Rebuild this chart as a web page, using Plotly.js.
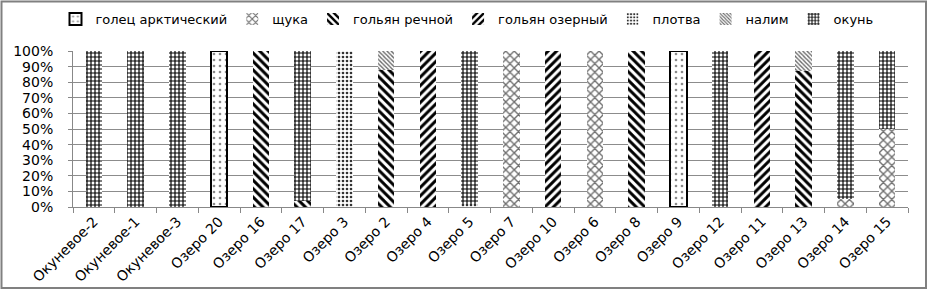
<!DOCTYPE html>
<html>
<head>
<meta charset="utf-8">
<script src="https://cdn.plot.ly/plotly-3.0.1.min.js"></script>
<style>
html,body{margin:0;padding:0;background:#fff;}
#chart{width:929px;height:291px;}
</style>
</head>
<body>
<div id="chart"></div>
<script>
const categories = ["Окуневое-2","Окуневое-1","Окуневое-3","Озеро 20","Озеро 16","Озеро 17","Озеро 3","Озеро 2","Озеро 4","Озеро 5","Озеро 7","Озеро 10","Озеро 6","Озеро 8","Озеро 9","Озеро 12","Озеро 11","Озеро 13","Озеро 14","Озеро 15"];
const seriesNames = ["голец арктический","щука","гольян речной","гольян озерный","плотва","налим","окунь"];
const golets   = [0,0,0,100,0,0,0,0,0,0,0,0,0,0,100,0,0,0,0,0];
const shchuka  = [0,0,0,0,0,0,0,0,0,0,100,0,100,0,0,0,0,0,5,50];
const golyanR  = [0,0,0,0,100,4,0,88,0,0,0,0,0,100,0,0,0,87,0,0];
const golyanO  = [0,0,0,0,0,0,0,0,100,0,0,100,0,0,0,0,100,0,0,0];
const plotva   = [0,0,0,0,0,0,100,0,0,2,0,0,0,0,0,0,0,0,0,0];
const nalim    = [0,0,0,0,0,0,0,12,0,0,0,0,0,0,0,0,0,13,0,0];
const okun     = [100,100,100,0,0,96,0,0,0,98,0,0,0,0,0,100,0,0,95,50];
const yTicks = [0,10,20,30,40,50,60,70,80,90,100];

const values = [golets, shchuka, golyanR, golyanO, plotva, nalim, okun];
const patterns = [
  {shape:".", fgcolor:"#8a8a8a", bgcolor:"#ffffff", size:6, solidity:0.15},
  {shape:"x", fgcolor:"#6e6e6e", bgcolor:"#ffffff", size:6, solidity:0.4},
  {shape:"\\", fgcolor:"#000000", bgcolor:"#ffffff", size:6, solidity:0.5},
  {shape:"/", fgcolor:"#000000", bgcolor:"#ffffff", size:6, solidity:0.5},
  {shape:".", fgcolor:"#333333", bgcolor:"#ffffff", size:4, solidity:0.35},
  {shape:"\\", fgcolor:"#6a6a6a", bgcolor:"#ffffff", size:3, solidity:0.45},
  {shape:"+", fgcolor:"#000000", bgcolor:"#ffffff", size:4, solidity:0.5}
];

const traces = seriesNames.map((name, i) => ({
  type: "bar",
  name: name,
  x: categories,
  y: values[i].map(v => v === 0 ? null : v),
  marker: {
    color: "#ffffff",
    pattern: patterns[i],
    line: i === 0 ? {color:"#000000", width:2} : {width:0}
  },
  hoverinfo: "skip"
}));

const L = 73, R = 21, T = 51, B = 84, W = 929, H = 291;
const pw = W - L - R, ph = H - T - B;
const px = v => (v - L) / pw;
const py = v => (H - B - v) / ph;
const FONT = {family: "DejaVu Sans", size: 14, color: "#000000"};
const LFONT = {family: "DejaVu Sans", size: 13, color: "#000000"};

const layout = {
  width: W, height: H,
  margin: {l:L, r:R, t:T, b:B, pad:0, autoexpand:false},
  barmode: "stack",
  bargap: 0.6,
  paper_bgcolor: "#ffffff",
  plot_bgcolor: "#ffffff",
  font: FONT,
  showlegend: true,
  legend: {
    orientation: "h",
    x: px(467), xanchor: "center",
    y: py(19), yanchor: "middle",
    font: LFONT,
    itemwidth: 30,
    traceorder: "normal",
    bgcolor: "rgba(0,0,0,0)"
  },
  xaxis: {
    type: "category",
    tickangle: -45,
    ticks: "outside",
    tickson: "boundaries",
    ticklen: 5,
    tickcolor: "#888888",
    showline: true,
    linecolor: "#888888",
    linewidth: 1,
    showgrid: false,
    tickfont: FONT,
    automargin: false,
    fixedrange: true
  },
  yaxis: {
    range: [0, 100],
    tickvals: yTicks,
    ticktext: yTicks.map(v => v + "%"),
    ticks: "outside",
    ticklen: 4,
    tickcolor: "#888888",
    ticklabelstandoff: 12,
    showline: true,
    linecolor: "#888888",
    linewidth: 1,
    showgrid: true,
    gridcolor: "#8c8c8c",
    gridwidth: 1,
    zeroline: false,
    tickfont: FONT,
    automargin: false,
    fixedrange: true
  },
  shapes: [{
    type: "rect", xref: "paper", yref: "paper",
    x0: px(1.5), x1: px(926), y0: py(288), y1: py(1.5),
    line: {color: "#808080", width: 2},
    fillcolor: "rgba(0,0,0,0)",
    layer: "above"
  }]
};

Plotly.newPlot("chart", traces, layout, {staticPlot: true, displayModeBar: false});
</script>
</body>
</html>
